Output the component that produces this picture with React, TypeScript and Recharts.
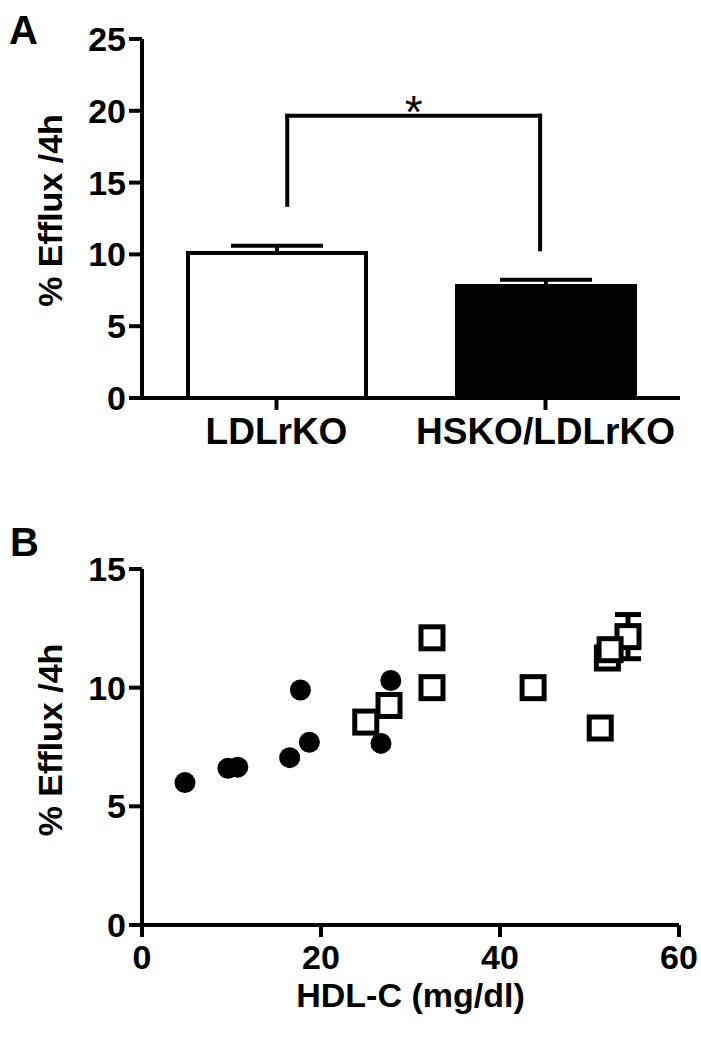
import React from 'react';
import {
  BarChart, Bar, Cell, XAxis, YAxis, ErrorBar, ReferenceLine, Label,
  ScatterChart, Scatter,
} from 'recharts';

const FONT = '"Liberation Sans", Arial, Helvetica, sans-serif';

// panel A
const groups = ['LDLrKO', 'HSKO/LDLrKO'];
const groupPos = [0.5, 1.5];
const effluxMean = [10.1, 7.8];
const effluxSem = [0.5, 0.44];
const barFills = ['#ffffff', '#000000'];
const effluxTicks = [0, 5, 10, 15, 20, 25];

// significance bracket (x on the same 0..2 group axis)
const bracketX = [0.54, 1.48];
const bracketTop = 19.65;
const bracketFeet = [13.45, 10.35];

// panel B
const koHdl = [25.0, 27.6, 32.4, 32.4, 43.7, 51.2, 52.0, 52.3];
const koEfflux = [8.55, 9.25, 10.0, 12.1, 10.0, 8.3, 11.25, 11.6];
const koErrHdl = [54.3];
const koErrEfflux = [12.15];
const koErrSem = [0.93];
const hsHdl = [4.8, 9.6, 10.7, 16.5, 17.7, 18.7, 26.7, 27.8];
const hsEfflux = [6.0, 6.6, 6.65, 7.05, 9.9, 7.7, 7.65, 10.3];
const hdlTicks = [0, 20, 40, 60];
const efflux2Ticks = [0, 5, 10, 15];

const barData = groups.map((g, i) => ({ name: g, pos: groupPos[i], value: effluxMean[i], err: [0, effluxSem[i]] }));
const koData = koHdl.map((x, i) => ({ x, y: koEfflux[i] }));
const koErrData = koErrHdl.map((x, i) => ({ x, y: koErrEfflux[i], err: koErrSem[i] }));
const hsData = hsHdl.map((x, i) => ({ x, y: hsEfflux[i] }));

const tickStyle = { fill: '#000', fontSize: 34, fontWeight: 'bold', fontFamily: FONT };
const axisLine = { stroke: '#000', strokeWidth: 4 };
const tickLine = { stroke: '#000', strokeWidth: 4 };

const yLabel = (shift: number) => (props: any) => {
  const vb = props.viewBox;
  const cy = vb.y + vb.height / 2 + shift;
  return (
    <text
      transform={`translate(50, ${cy}) rotate(-90)`}
      textAnchor="middle"
      dominantBaseline="central"
      fontSize={34}
      fontWeight="bold"
      fontFamily={FONT}
      fill="#000"
    >
      % Efflux /4h
    </text>
  );
};

const OpenSquare = (props: any) => {
  const { cx, cy } = props;
  return <rect x={cx - 11} y={cy - 11} width={22} height={22} fill="#fff" stroke="#000" strokeWidth={5} />;
};

const Dot = (props: any) => {
  const { cx, cy } = props;
  return <circle cx={cx} cy={cy} r={10.5} fill="#000" />;
};

const panelLetter: React.CSSProperties = {
  position: 'absolute',
  fontFamily: FONT,
  fontWeight: 'bold',
  fontSize: 40,
  lineHeight: '40px',
  color: '#000',
};

const bracketProps = { stroke: '#000', strokeWidth: 4, strokeLinecap: 'square' as const };

export default function App() {
  return (
    <div style={{ position: 'absolute', left: 0, top: 0, width: 701, height: 1050, background: '#fff', overflow: 'hidden' }}>
      <div style={{ ...panelLetter, left: 9, top: 10 }}>A</div>
      <div style={{ ...panelLetter, left: 10, top: 522 }}>B</div>

      <div style={{ position: 'absolute', left: 0, top: 0 }}>
        <BarChart width={701} height={480} data={barData} margin={{ top: 39, right: 21, bottom: 22, left: 0 }}>
          <XAxis
            type="number"
            dataKey="pos"
            domain={[0, 2]}
            ticks={groupPos}
            interval={0}
            tickFormatter={(v: number) => groups[groupPos.indexOf(v)]}
            height={60}
            axisLine={axisLine}
            tickLine={tickLine}
            tickSize={12}
            tickMargin={8}
            tick={{ ...tickStyle, fontSize: 37 }}
          />
          <YAxis
            width={142}
            domain={[0, 25]}
            ticks={effluxTicks}
            interval={0}
            axisLine={axisLine}
            tickLine={tickLine}
            tickSize={13}
            tickMargin={3}
            tick={tickStyle}
          >
            <Label content={yLabel(-8)} />
          </YAxis>
          <Bar dataKey="value" barSize={178} stroke="#000" strokeWidth={4} isAnimationActive={false}>
            {barData.map((d, i) => (
              <Cell key={d.name} fill={barFills[i]} />
            ))}
            <ErrorBar dataKey="err" width={46} stroke="#000" strokeWidth={4} />
          </Bar>
          <ReferenceLine
            segment={[{ x: bracketX[0], y: bracketTop }, { x: bracketX[1], y: bracketTop }]}
            {...bracketProps}
          >
            <Label value="*" position="top" offset={-12} fontSize={46} fill="#000" fontFamily={FONT} />
          </ReferenceLine>
          <ReferenceLine
            segment={[{ x: bracketX[0], y: bracketTop }, { x: bracketX[0], y: bracketFeet[0] }]}
            {...bracketProps}
          />
          <ReferenceLine
            segment={[{ x: bracketX[1], y: bracketTop }, { x: bracketX[1], y: bracketFeet[1] }]}
            {...bracketProps}
          />
        </BarChart>
      </div>

      <div style={{ position: 'absolute', left: 0, top: 500 }}>
        <ScatterChart width={701} height={550} margin={{ top: 69, right: 22, bottom: 35, left: 0 }}>
          <XAxis
            type="number"
            dataKey="x"
            domain={[0, 60]}
            ticks={hdlTicks}
            interval={0}
            height={90}
            axisLine={axisLine}
            tickLine={tickLine}
            tickSize={12}
            tickMargin={8}
            tick={tickStyle}
          >
            <Label
              value="HDL-C (mg/dl)"
              position="insideBottom"
              offset={8}
              fontSize={34}
              fontWeight="bold"
              fontFamily={FONT}
              fill="#000"
            />
          </XAxis>
          <YAxis
            type="number"
            dataKey="y"
            width={142}
            domain={[0, 15]}
            ticks={efflux2Ticks}
            interval={0}
            axisLine={axisLine}
            tickLine={tickLine}
            tickSize={13}
            tickMargin={3}
            tick={tickStyle}
          >
            <Label content={yLabel(-7)} />
          </YAxis>
          <Scatter data={koErrData} shape={OpenSquare} isAnimationActive={false}>
            <ErrorBar dataKey="err" direction="y" width={13} stroke="#000" strokeWidth={5} />
          </Scatter>
          <Scatter data={koData} shape={OpenSquare} isAnimationActive={false} />
          <Scatter data={hsData} shape={Dot} isAnimationActive={false} />
        </ScatterChart>
      </div>
    </div>
  );
}
